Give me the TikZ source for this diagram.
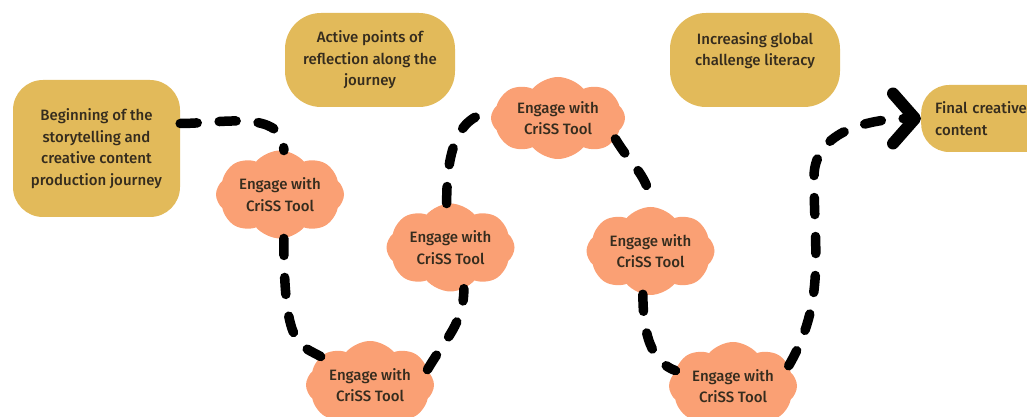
\documentclass[tikz,border=0pt]{standalone}
\usepackage{fontspec}
\setmainfont{Fira Sans}[UprightFont=* Medium]
\usetikzlibrary{shapes.symbols,arrows.meta}
\definecolor{gold}{HTML}{E2BA5A}
\definecolor{salmon}{HTML}{FAA074}
\definecolor{ink}{HTML}{352C1E}
\begin{document}
\begin{tikzpicture}[x=1pt,y=1pt,
    every node/.style={text=ink,font=\fontsize{15}{21.5}\selectfont,align=center,inner sep=0pt},
    stage/.style={fill=gold,rounded corners=30pt},
    engage/.style={cloud,cloud puffs=8,cloud puff arc=100,cloud ignores aspect,fill=salmon,minimum width=128pt,minimum height=88pt},
    trail/.style={line width=9.5pt,line cap=round,dash pattern=on 17pt off 22pt}]
    \useasboundingbox (0,0) rectangle (1027,417);
    \clip (0,0) rectangle (1027,417);
    \node[stage,minimum width=167pt,minimum height=137pt] (begin) at (96.5,268.5) {Beginning of the\\storytelling and\\creative content\\production journey};
    \node[stage,rounded corners=36pt,minimum width=170pt,minimum height=94pt] (reflect) at (370,357) {Active points of\\reflection along the\\journey};
    \node[stage,rounded corners=36pt,minimum width=170pt,minimum height=94pt] (literacy) at (755,357) {Increasing global\\challenge literacy\\~};
    \node[stage,rounded corners=28pt,minimum height=67pt,anchor=west,align=left,text width=104pt,inner xsep=14pt] (final) at (921,298.5) {Final creative\\content};
    \node[engage] (e1) at (280,222.5) {Engage with\\CriSS Tool};
    \node[engage,minimum width=134pt,minimum height=82pt] (e2) at (558,299) {Engage with\\CriSS Tool};
    \node[engage] (e3) at (450.5,169.5) {Engage with\\CriSS Tool};
    \node[engage] (e4) at (650.5,166) {Engage with\\CriSS Tool};
    \node[engage] (e5) at (370,32) {Engage with\\CriSS Tool};
    \node[engage] (e6) at (733,31) {Engage with\\CriSS Tool};
    \coordinate (bend) at (814,240);
    \draw[trail] ([yshift=25pt]begin.east) to[out=0,in=90] (e1.85);
    \draw[trail] (e1.-85) to[out=-90,in=150,out distance=110pt,in distance=25pt] (e5.150);
    \draw[trail] (e5.15) to[out=60,in=-90] (e3.-72);
    \draw[trail] (e3.95) to[out=90,in=185] (e2.175);
    \draw[trail] (e2.-20) to[out=-60,in=90] (e4.90);
    \draw[trail] (e4.-100) to[out=-90,in=160,out distance=50pt,in distance=20pt] (e6.165);
    \draw[trail,-{Straight Barb[length=22pt,width=50pt,line width=12pt,round]}] (e6.20) to[out=60,in=-90] (bend) to[out=90,in=180] (final.west);
\end{tikzpicture}
\end{document}
